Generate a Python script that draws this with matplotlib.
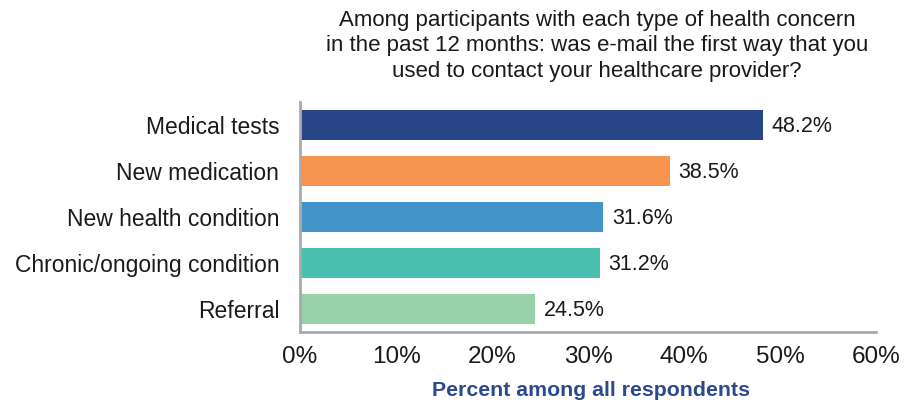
import matplotlib
matplotlib.use('Agg')
import matplotlib.pyplot as plt
from matplotlib.ticker import FuncFormatter

categories = ['Medical tests', 'New medication', 'New health condition',
              'Chronic/ongoing condition', 'Referral']
values = [48.2, 38.5, 31.6, 31.2, 24.5]
colors = ['#284588', '#f79550', '#4394c8', '#4abfaf', '#98d2ab']
xticks = [0, 10, 20, 30, 40, 50, 60]

plt.rcParams['font.family'] = ['Liberation Sans', 'DejaVu Sans']

fig = plt.figure(figsize=(9.17, 4.04), dpi=100)
ax = fig.add_axes([300/917, 1 - 332/404, 576/917, 230/404])

ypos = list(range(len(categories)))
ax.barh(ypos, values, height=0.65, color=colors)
for y, v in zip(ypos, values):
    ax.text(v + 0.9, y + 0.03, f'{v:.1f}%', va='center', ha='left', fontsize=15.5, color='#1a1a1a')

ax.set_ylim(len(categories) - 0.5, -0.5)
ax.set_xlim(0, 60)
ax.set_yticks(ypos)
ax.set_yticklabels(categories, fontsize=16.5, color='#1a1a1a')
ax.set_xticks(xticks)
ax.xaxis.set_major_formatter(FuncFormatter(lambda x, p: f'{x:.0f}%'))
ax.tick_params(axis='x', labelsize=17.5, length=0, pad=10, colors='#1a1a1a')
ax.tick_params(axis='y', length=0, pad=15)

for s in ['top', 'right']:
    ax.spines[s].set_visible(False)
ax.spines['left'].set_color('#aaaaaa')
ax.spines['left'].set_linewidth(2)
ax.spines['bottom'].set_color('#aaaaaa')
ax.spines['bottom'].set_linewidth(2)

# x-axis title placed by hand so it stays inside the figure
fig.text(591/917, 1 - 390/404, 'Percent among all respondents', fontsize=15.3,
         fontweight='bold', color='#2b4a8c', ha='center', va='center')

fig.text(597/917, 1 - 10/404,
         'Among participants with each type of health concern\n'
         'in the past 12 months: was e-mail the first way that you\n'
         'used to contact your healthcare provider?',
         ha='center', va='top', fontsize=16, color='#1a1a1a', linespacing=1.27)

fig.savefig('out.png', dpi=100)
